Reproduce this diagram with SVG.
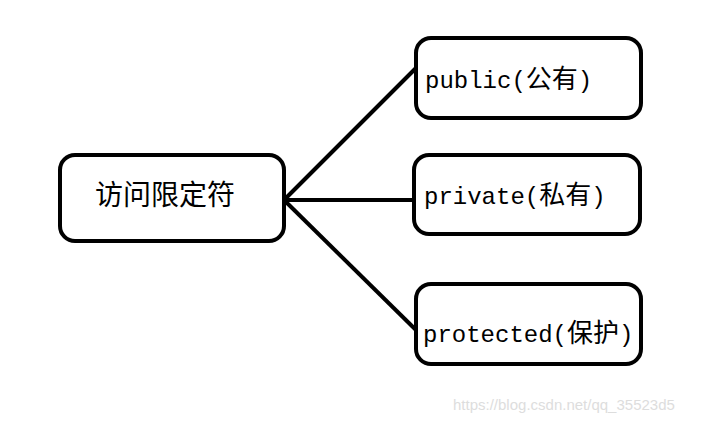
<svg xmlns="http://www.w3.org/2000/svg" width="715" height="423" viewBox="0 0 715 423">
<style>
.box{fill:#fff;stroke:#000;stroke-width:4}
.lbl{font-family:"Liberation Mono","Noto Sans CJK SC",monospace;font-size:24px;fill:#000}
.c{font-family:"Noto Sans CJK SC",sans-serif;font-size:26px}
.cn{font-family:"Noto Sans CJK SC",sans-serif;font-size:28px;fill:#000}
.wm{font-family:"Liberation Sans",sans-serif;font-size:15px;fill:#ddd}
</style>
<rect width="715" height="423" fill="#fff"/>
<g id="connectors" stroke="#000" stroke-width="4" fill="none">
<line x1="284" y1="200" x2="416" y2="68"/>
<line x1="284" y1="200" x2="414" y2="200"/>
<line x1="284" y1="200" x2="416" y2="330"/>
</g>
<g id="root">
<rect class="box" x="60" y="155" width="224" height="86" rx="15"/>
<text class="cn" x="95" y="205">访问限定符</text>
</g>
<g id="public">
<rect class="box" x="416" y="38" width="225" height="80" rx="15"/>
<text class="lbl" x="425" y="88">public(<tspan class="c">公有</tspan>)</text>
</g>
<g id="private">
<rect class="box" x="414" y="155" width="226" height="79" rx="15"/>
<text class="lbl" x="424" y="204">private(<tspan class="c">私有</tspan>)</text>
</g>
<g id="protected">
<rect class="box" x="416" y="284" width="225" height="80" rx="15"/>
<text class="lbl" x="423" y="342">protected(<tspan class="c">保护</tspan>)</text>
</g>
<text class="wm" x="453" y="410">https://blog.csdn.net/qq_35523d5</text>
</svg>
